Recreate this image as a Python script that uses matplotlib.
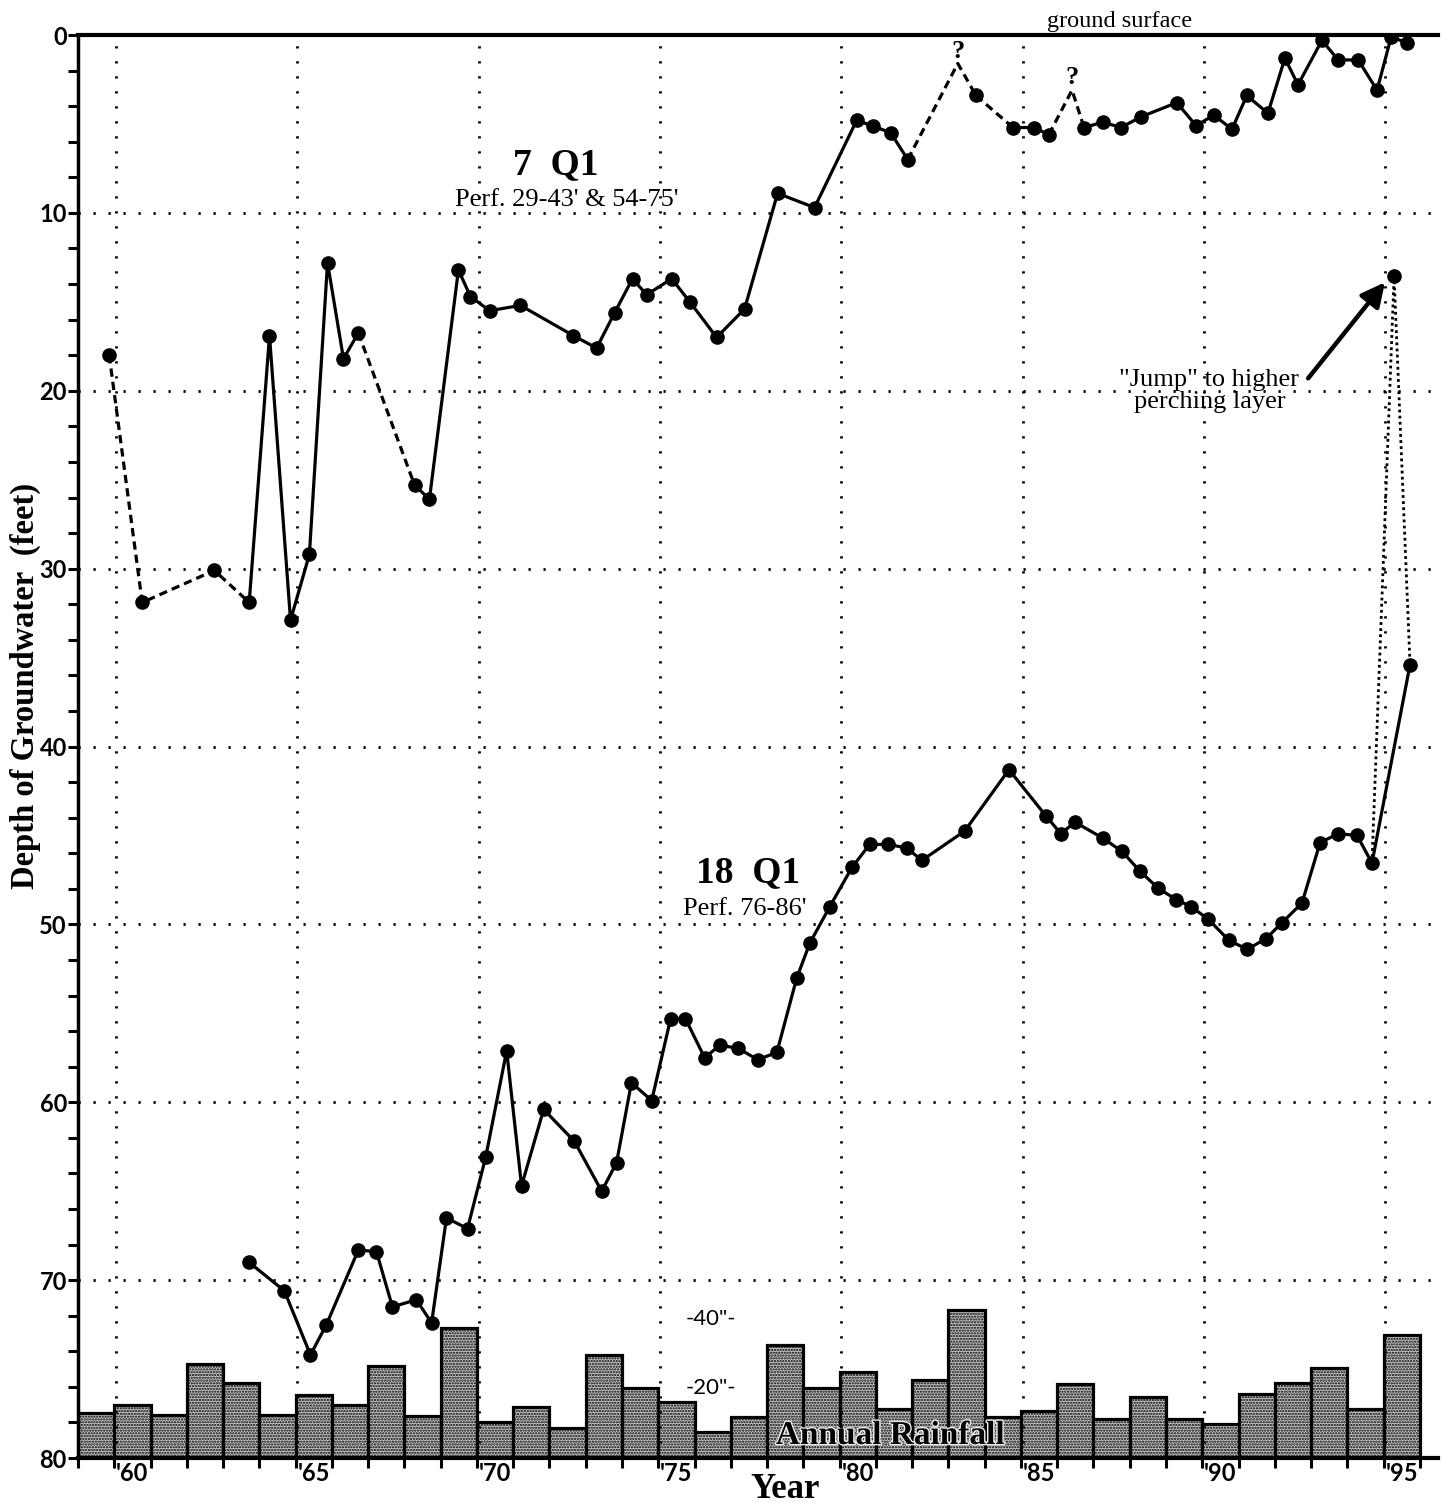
import matplotlib
matplotlib.use('Agg')
import matplotlib.pyplot as plt
import matplotlib.patheffects as pe
import numpy as np

# annual rainfall (inches), one bar per calendar year
rain_years = list(range(1959, 1996))
rain_in = [13.0, 15.2, 12.4, 27.0, 21.6, 12.4, 18.0, 15.2, 26.4, 12.0,
           37.4, 10.3, 14.7, 8.6, 29.6, 20.1, 16.1, 7.5, 11.8, 32.5,
           20.1, 24.7, 14.1, 22.4, 42.5, 11.8, 13.5, 21.3, 11.2, 17.5,
           11.2, 9.8, 18.4, 21.6, 25.9, 14.1, 35.3]

# well 7 Q1, depth to water (feet)
q7_year = [1959.86, 1960.77, 1962.76, 1963.72, 1964.28, 1964.86, 1965.38, 1965.88,
           1966.32, 1966.73, 1968.28, 1968.69, 1969.49, 1969.82, 1970.35, 1971.20,
           1972.66, 1973.30, 1973.80, 1974.29, 1974.68, 1975.37, 1975.87, 1976.61,
           1977.38, 1978.29, 1979.31, 1980.47, 1980.91, 1981.41, 1981.88, 1983.76,
           1984.78, 1985.36, 1985.77, 1986.74, 1987.26, 1987.76, 1988.31, 1989.30,
           1989.83, 1990.32, 1990.82, 1991.23, 1991.81, 1992.28, 1992.64, 1993.30,
           1993.75, 1994.30, 1994.82, 1995.21, 1995.65]
q7_depth = [18.0, 31.9, 30.1, 31.9, 16.9, 32.9, 29.2, 12.8,
            18.2, 16.75, 25.3, 26.1, 13.2, 14.7, 15.5, 15.2,
            16.9, 17.6, 15.6, 13.7, 14.6, 13.7, 15.0, 17.0,
            15.4, 8.9, 9.7, 4.8, 5.1, 5.5, 7.0, 3.4,
            5.2, 5.2, 5.6, 5.2, 4.9, 5.2, 4.6, 3.8,
            5.1, 4.5, 5.3, 3.4, 4.4, 1.3, 2.8, 0.3,
            1.4, 1.4, 3.1, 0.1, 0.45]
# uncertain peaks marked with "?"
q7_query_year = [1983.26, 1986.41]
q7_query_depth = [1.6, 3.1]

# well 18 Q1, depth to water (feet)
q18_year = [1963.72, 1964.69, 1965.41, 1965.85, 1966.73, 1967.23, 1967.67, 1968.33,
            1968.75, 1969.16, 1969.74, 1970.24, 1970.82, 1971.23, 1971.84, 1972.69,
            1973.44, 1973.85, 1974.26, 1974.82, 1975.34, 1975.75, 1976.28, 1976.69,
            1977.19, 1977.74, 1978.27, 1978.82, 1979.18, 1979.73, 1980.34, 1980.83,
            1981.33, 1981.85, 1982.27, 1983.45, 1984.67, 1985.69, 1986.10, 1986.49,
            1987.26, 1987.79, 1988.28, 1988.78, 1989.28, 1989.69, 1990.16, 1990.74,
            1991.24, 1991.76, 1992.20, 1992.75, 1993.25, 1993.75, 1994.27, 1994.68,
            1995.73]
q18_depth = [69.0, 70.6, 74.2, 72.5, 68.3, 68.4, 71.5, 71.1,
             72.4, 66.5, 67.1, 63.1, 57.1, 64.7, 60.4, 62.2,
             65.0, 63.4, 58.9, 59.9, 55.3, 55.3, 57.5, 56.8,
             56.95, 57.6, 57.2, 53.0, 51.05, 49.0, 46.8, 45.5,
             45.5, 45.7, 46.4, 44.75, 41.3, 43.9, 44.9, 44.25,
             45.15, 45.9, 47.0, 47.96, 48.6, 49.0, 49.7, 50.9,
             51.4, 50.8, 49.9, 48.8, 45.4, 44.9, 45.0, 46.55,
             35.4]
# reading from the higher perching layer
jump_year = 1995.29
jump_depth = 13.55

year_labels = ["'60", "'65", "'70", "'75", "'80", "'85", "'90", "'95"]

serif = 'Liberation Serif'
sans = 'Lato'

plt.rcParams['hatch.color'] = '#202020'
plt.rcParams['hatch.linewidth'] = 1.1

fig = plt.figure(figsize=(14.42, 15.03), dpi=100)
ax = fig.add_axes([0.0541, 0.0299, 0.9431, 0.9468])
ax2 = ax.twinx()
ax.set_zorder(ax2.get_zorder() + 1)
ax.patch.set_visible(False)

# rainfall bars on their own inch scale
ax2.bar(rain_years, rain_in, width=1.0, align='edge', facecolor='#c4c4c4',
        edgecolor='k', linewidth=2.3, hatch='......')
ax2.set_ylim(0, 409)
ax2.set_yticks([])
for s in ax2.spines.values():
    s.set_visible(False)
for v, lab in [(40, '-40"-'), (20, '-20"-')]:
    ax2.text(1976.45, v, lab, ha='center', va='center', fontsize=16,
             family=sans, color='k')
ax2.text(1981.4, 6.5, 'Annual Rainfall', ha='center', va='center', fontsize=24,
         family=serif, weight='bold',
         path_effects=[pe.withStroke(linewidth=2, foreground='#eeeeee')])

ax.set_xlim(1959, 1996.5)
ax.set_ylim(80, 0)

# dotted grid every 5 years / 10 feet
dot = (0, (0.8, 4.6))
for gx in range(1960, 1996, 5):
    ax.axvline(gx + 0.05, color='k', lw=2, ls=dot, zorder=1)
for gy in range(10, 80, 10):
    ax.axhline(gy, color='k', lw=2, ls=dot, zorder=1)

lw = 2.3
dash = (0, (2.6, 1.6))

def seg(xs, ys, i0, i1, ls):
    ax.plot(xs[i0:i1 + 1], ys[i0:i1 + 1], color='k', lw=lw, ls=ls, zorder=3)

# 7 Q1 line pieces (dashed where record is patchy)
seg(q7_year, q7_depth, 0, 3, dash)
seg(q7_year, q7_depth, 3, 9, '-')
seg(q7_year, q7_depth, 9, 10, dash)
seg(q7_year, q7_depth, 10, 30, '-')
ax.plot([q7_year[30], q7_query_year[0], q7_year[31]],
        [q7_depth[30], q7_query_depth[0], q7_depth[31]], color='k', lw=lw, ls=dash, zorder=3)
seg(q7_year, q7_depth, 31, 32, dash)
seg(q7_year, q7_depth, 32, 34, '-')
ax.plot([q7_year[34], q7_query_year[1], q7_year[35]],
        [q7_depth[34], q7_query_depth[1], q7_depth[35]], color='k', lw=lw, ls=dash, zorder=3)
seg(q7_year, q7_depth, 35, len(q7_year) - 1, '-')
ax.plot(q7_year, q7_depth, 'o', color='k', ms=9.5, zorder=4)
for qx, qy in zip(q7_query_year, q7_query_depth):
    ax.text(qx, qy - 0.05, '?', ha='center', va='bottom', fontsize=19,
            family=serif, weight='bold')

# 18 Q1
ax.plot(q18_year, q18_depth, '-o', color='k', lw=lw, ms=9.5, zorder=3)
ax.plot([q18_year[-2], jump_year, q18_year[-1]],
        [q18_depth[-2], jump_depth, q18_depth[-1]], color='k', lw=2,
        ls=(0, (1, 1.2)), zorder=3)
ax.plot([jump_year], [jump_depth], 'o', color='k', ms=9.5, zorder=4)

# labels on the curves
ax.text(1972.18, 7.3, '7  Q1', ha='center', va='center', fontsize=27,
        family=serif, weight='bold')
ax.text(1972.48, 9.25, "Perf. 29-43' & 54-75'", ha='center', va='center',
        fontsize=19, family=serif)
ax.text(1977.47, 47.1, '18  Q1', ha='center', va='center', fontsize=27,
        family=serif, weight='bold')
ax.text(1977.38, 49.15, "Perf. 76-86'", ha='center', va='center',
        fontsize=19, family=serif)
ax.text(1987.73, -0.15, 'ground surface', ha='center', va='bottom',
        fontsize=17.5, family=serif, clip_on=False)
ax.text(1990.2, 20.0, '"Jump" to higher\nperching layer', ha='center',
        va='center', fontsize=19, family=serif, linespacing=1.0)
ax.annotate('', xy=(1995.04, 13.9), xytext=(1992.92, 19.3),
            arrowprops=dict(arrowstyle='-|>', lw=3.2, color='k',
                            mutation_scale=36, shrinkA=0, shrinkB=0))

# axes and ticks
ax.spines['right'].set_visible(False)
ax.spines['top'].set_linewidth(3)
ax.spines['left'].set_linewidth(2.5)
ax.spines['bottom'].set_linewidth(3)

ax.set_yticks(range(0, 81, 10))
ax.set_yticks(range(0, 81, 2), minor=True)
ax.tick_params(axis='y', which='both', direction='out', length=7, width=2.2,
               labelsize=17, pad=1)
for t in ax.get_yticklabels():
    t.set_family(sans)
    t.set_weight('bold')

ax.set_xticks(range(1959, 1997))
ax.set_xticklabels([])
ax.set_xticks([y + 0.5 for y in range(1960, 1996, 5)], minor=True)
ax.set_xticklabels(year_labels, minor=True)
ax.tick_params(axis='x', which='major', direction='out', length=7, width=2.2)
ax.tick_params(axis='x', which='minor', length=0, labelsize=17, pad=3)
for t in ax.get_xticklabels(minor=True):
    t.set_family(sans)
    t.set_weight('bold')

fig.text(785 / 1442, 1 - 1489 / 1503, 'Year', ha='center', va='center',
         fontsize=25, family=serif, weight='bold')
fig.text(25 / 1442, 1 - 686 / 1503, 'Depth of Groundwater  (feet)', rotation=90,
         ha='center', va='center', fontsize=23.5, family=serif, weight='bold')

fig.savefig('out.png', dpi=100)
